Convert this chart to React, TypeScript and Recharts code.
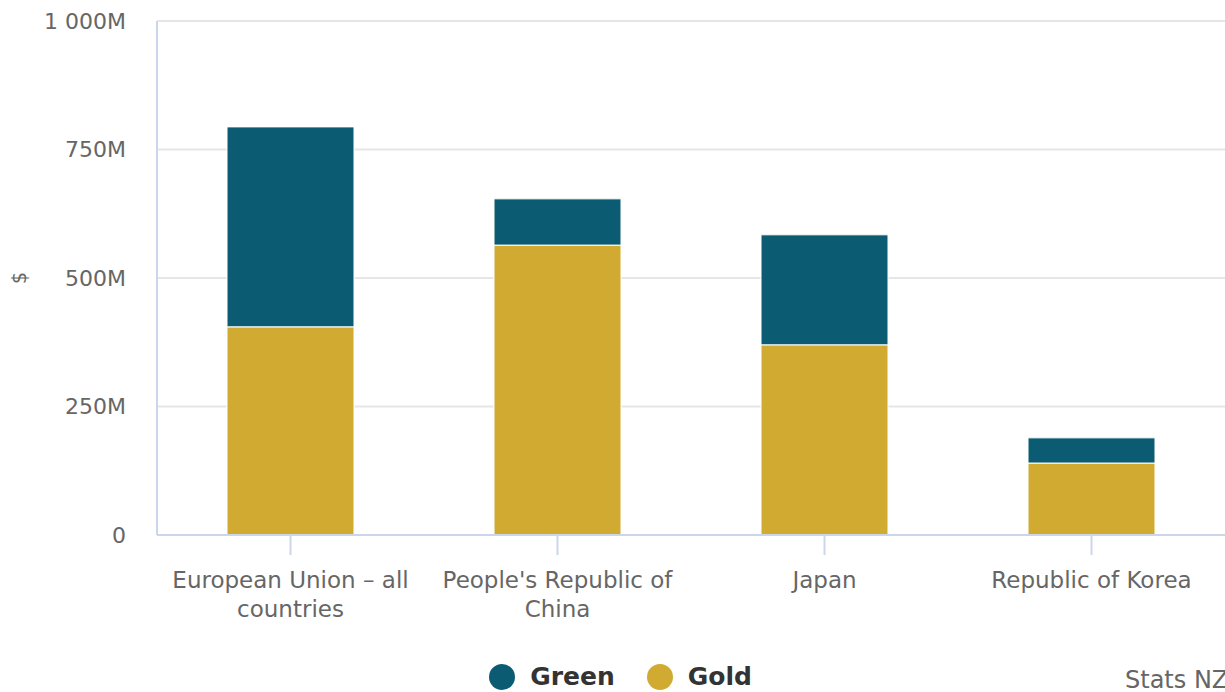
import React from 'react';
import { BarChart, Bar, XAxis, YAxis, CartesianGrid, Legend, Label } from 'recharts';

const categories = ['European Union – all countries', "People's Republic of China", 'Japan', 'Republic of Korea'];
const goldValues = [405, 564, 370, 140];
const greenValues = [389, 90, 214, 49];
const yTicks = [0, 250, 500, 750, 1000];

const data = categories.map((name, i) => ({ name, gold: goldValues[i], green: greenValues[i] }));

const GREEN = '#0b5c73';
const GOLD = '#d1ab31';
const AXIS = '#ccd6eb';
const TEXT = '#666666';
const FONT = '"DejaVu Sans", sans-serif';

const formatTick = (v: number) => {
  if (v === 0) return '0';
  return String(v).replace(/\B(?=(\d{3})+(?!\d))/g, ' ') + 'M';
};

let ctx: CanvasRenderingContext2D | null = null;
function wrapWords(label: string, maxWidth: number, font: string) {
  if (!ctx) ctx = document.createElement('canvas').getContext('2d');
  if (ctx) ctx.font = font;
  const measure = (s: string) => (ctx ? ctx.measureText(s).width : s.length * 12);
  const lines: string[] = [];
  let cur = '';
  label.split(' ').forEach((w) => {
    const next = cur ? cur + ' ' + w : w;
    if (cur && measure(next) > maxWidth) {
      lines.push(cur);
      cur = w;
    } else {
      cur = next;
    }
  });
  if (cur) lines.push(cur);
  return lines;
}

function CategoryTick(props: any) {
  const { x, y, payload } = props;
  const lines = wrapWords(String(payload.value), 250, '23px "DejaVu Sans"');
  return (
    <text x={x} y={y} textAnchor="middle" fill={TEXT} fontSize={23} fontFamily={FONT}>
      {lines.map((line, i) => (
        <tspan key={i} x={x} dy={i === 0 ? 16 : 29}>
          {line}
        </tspan>
      ))}
    </text>
  );
}

function LegendContent(props: any) {
  const items = [...(props.payload || [])].reverse();
  return (
    <div style={{ display: 'flex', justifyContent: 'center', alignItems: 'center', fontFamily: FONT, paddingLeft: 16 }}>
      {items.map((item: any, i: number) => (
        <div key={item.value} style={{ display: 'flex', alignItems: 'center', marginLeft: i === 0 ? 0 : 32 }}>
          <span style={{ width: 26, height: 26, borderRadius: 13, background: item.color, display: 'inline-block' }} />
          <span style={{ marginLeft: 15, fontWeight: 'bold', fontSize: 25, color: '#333333' }}>{item.value}</span>
        </div>
      ))}
    </div>
  );
}

export default function App() {
  return (
    <div style={{ position: 'absolute', left: 0, top: 0, width: 1225, height: 692, background: '#fff', fontFamily: FONT, overflow: 'hidden' }}>
      <BarChart width={1225} height={692} data={data} margin={{ top: 21, right: 0, bottom: 0, left: 0 }} barSize={127}>
        <CartesianGrid vertical={false} stroke="#e6e6e6" strokeWidth={2} />
        <XAxis
          dataKey="name"
          height={157}
          axisLine={{ stroke: AXIS, strokeWidth: 2 }}
          tickLine={{ stroke: AXIS, strokeWidth: 2 }}
          tickSize={20}
          tickMargin={17}
          interval={0}
          tick={<CategoryTick />}
        />
        <YAxis
          width={157}
          domain={[0, 1000]}
          ticks={yTicks}
          tickFormatter={formatTick}
          axisLine={{ stroke: AXIS, strokeWidth: 2 }}
          tickLine={false}
          tickSize={0}
          tickMargin={31}
          tick={{ fill: TEXT, fontSize: 22, fontFamily: FONT }}
        >
          <Label
            content={(p: any) => {
              const vb = p.viewBox || { y: 21, height: 514 };
              const cy = vb.y + vb.height / 2;
              return (
                <text x={26} y={cy} transform={`rotate(-90 26 ${cy})`} textAnchor="middle" fill={TEXT} fontSize={19} fontFamily={FONT}>
                  $
                </text>
              );
            }}
          />
        </YAxis>
        <Legend
          layout="horizontal"
          verticalAlign="middle"
          align="center"
          wrapperStyle={{ top: 662, left: 0, width: 1225 }}
          content={<LegendContent />}
        />
        <Bar dataKey="gold" name="Gold" stackId="a" fill={GOLD} stroke="#ffffff" strokeWidth={1} isAnimationActive={false} />
        <Bar dataKey="green" name="Green" stackId="a" fill={GREEN} stroke="#ffffff" strokeWidth={1} isAnimationActive={false} />
      </BarChart>
      <div style={{ position: 'absolute', left: 1125, top: 666, fontSize: 24, color: TEXT, whiteSpace: 'nowrap', fontFamily: FONT }}>
        Stats NZ
      </div>
    </div>
  );
}
